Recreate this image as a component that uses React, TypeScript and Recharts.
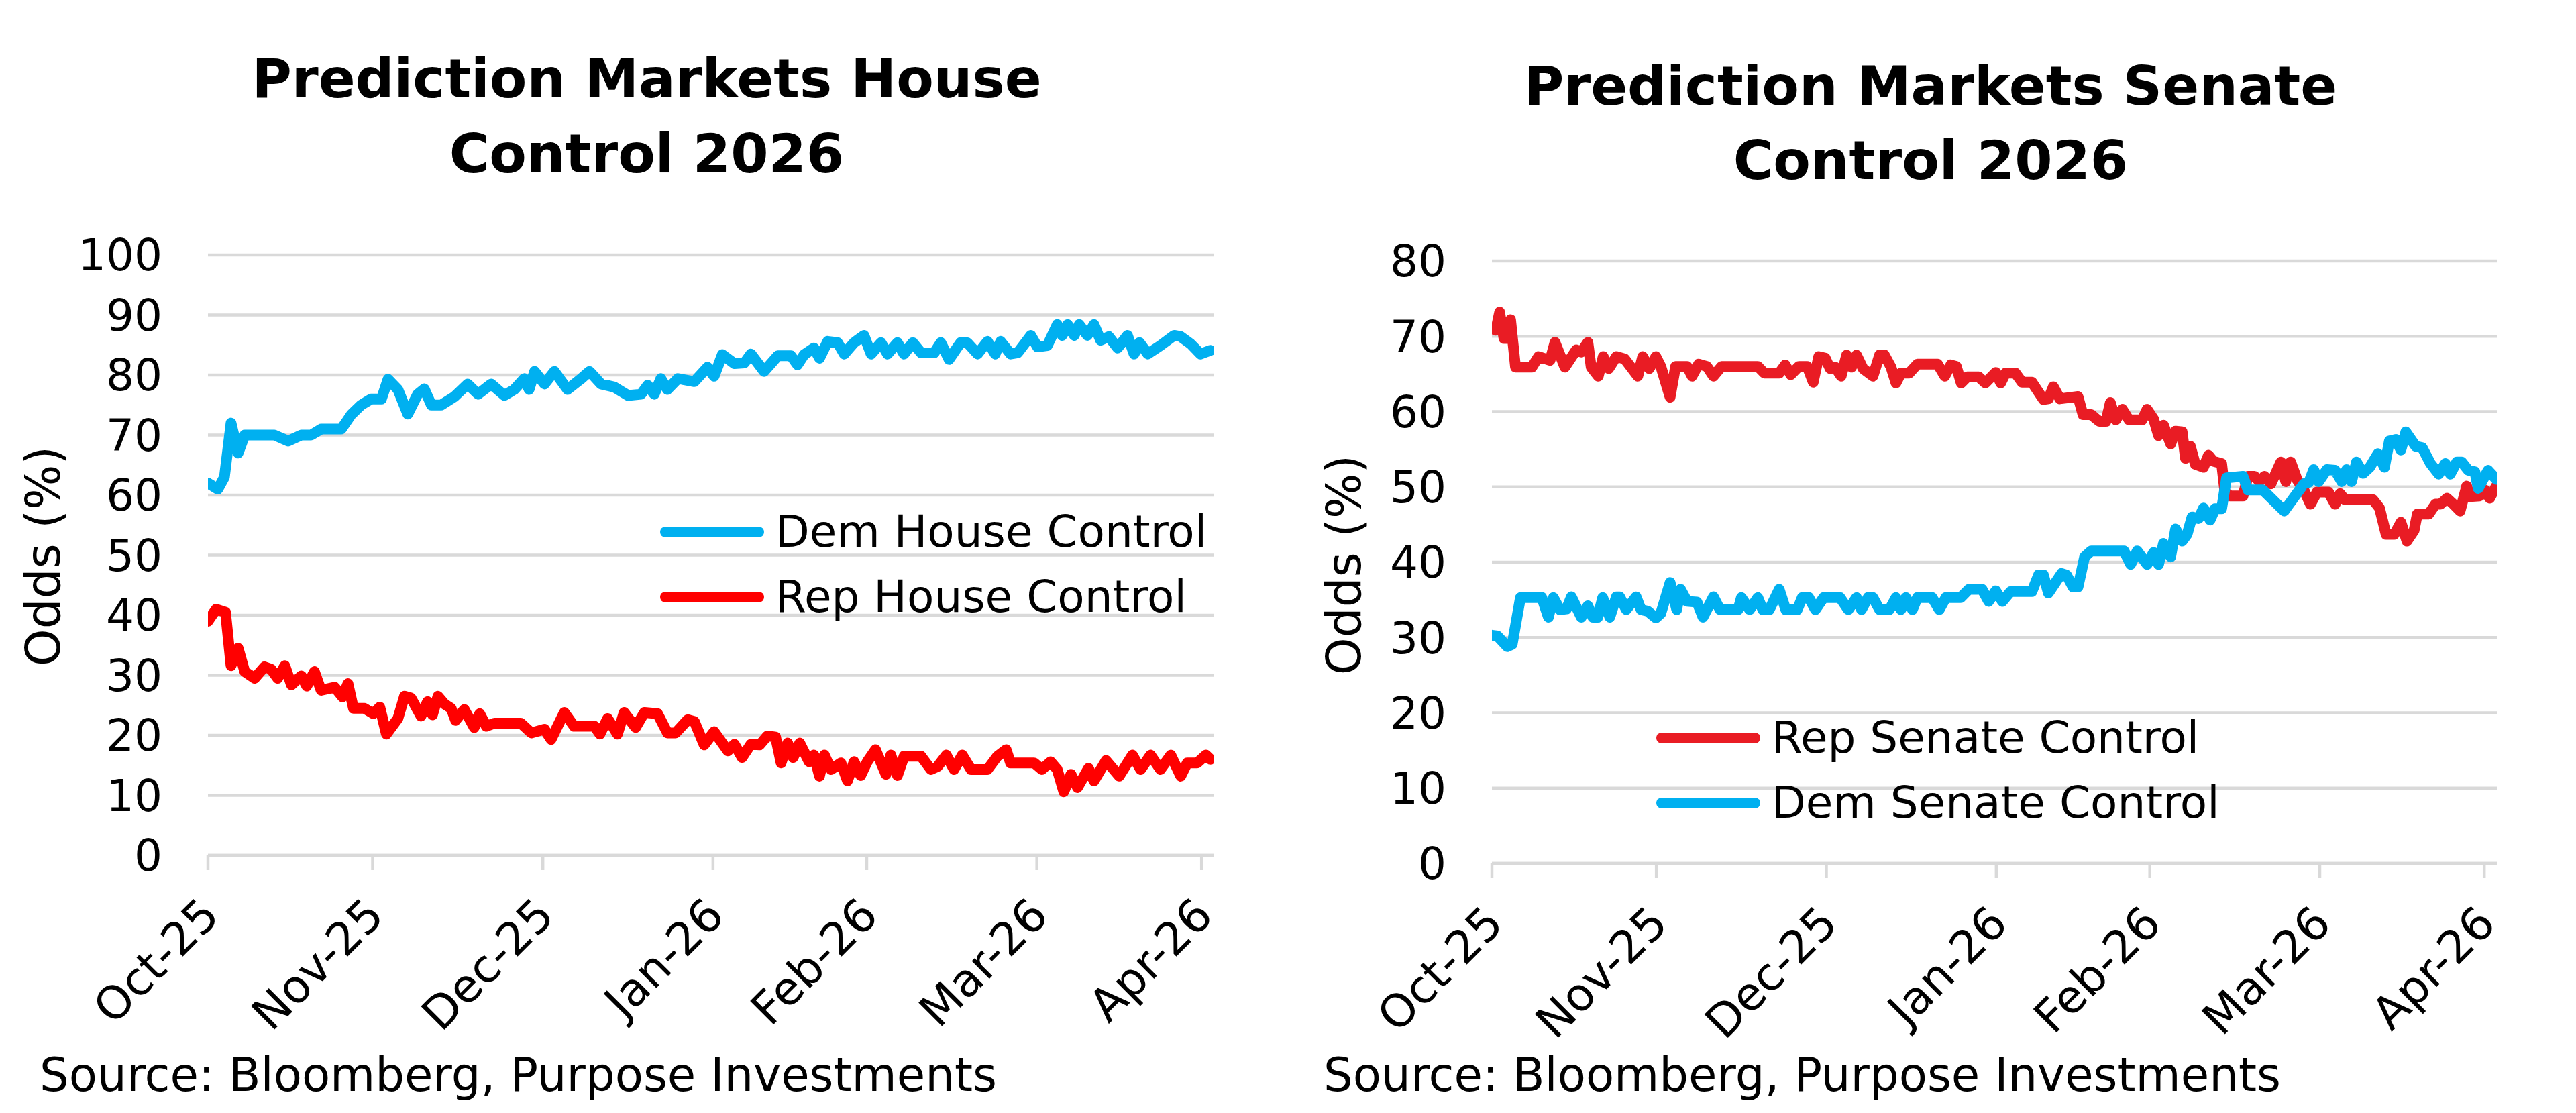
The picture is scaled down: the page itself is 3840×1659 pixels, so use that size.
import React from "react";
import { LineChart, Line, XAxis, YAxis, CartesianGrid, Legend } from "recharts";

const FONT = "'DejaVu Sans', 'Liberation Sans', sans-serif";
const BLUE = "#00B0F0";
const GRID = "#D9D9D9";

// x = days since the first observation, month ticks fall on month ends
const monthTicks = [0, 30, 61, 92, 120, 151, 181];
const monthLabels = ["Oct-25", "Nov-25", "Dec-25", "Jan-26", "Feb-26", "Mar-26", "Apr-26"];
const houseTicks = [0, 10, 20, 30, 40, 50, 60, 70, 80, 90, 100];
const senateTicks = [0, 10, 20, 30, 40, 50, 60, 70, 80];

const houseDem: [number, number][] = [
  [0, 62], [1.8, 61], [3, 63], [4.2, 72], [5.5, 67], [6.7, 70], [12.1, 70], [14.6, 69], [17, 70], [18.8, 70],
  [20.6, 71], [24.3, 71], [26.1, 73.4], [27.9, 75], [29.7, 76], [31.6, 76], [32.8, 79.3], [34.6, 77.6], [36.4, 73.5], [38.2, 76.8],
  [39.4, 77.7], [40.7, 75], [42.5, 75], [44.9, 76.4], [47.3, 78.5], [49.2, 76.8], [51.6, 78.5], [54, 76.6], [55.8, 77.6], [57.6, 79.4],
  [58.5, 77.6], [59.5, 80.6], [61.3, 78.5], [63.1, 80.6], [65.5, 77.6], [68, 79.4], [69.5, 80.6], [71.6, 78.5], [74, 78], [76.5, 76.6],
  [78.9, 76.8], [80.1, 78.3], [81.3, 76.8], [82.5, 79.4], [83.7, 77.6], [85.6, 79.4], [88.6, 78.9], [91, 81.3], [92.2, 79.8], [93.7, 83.4],
  [95.9, 81.9], [97.7, 82], [98.9, 83.5], [101.3, 80.6], [103.8, 83.2], [106.2, 83.2], [107.4, 81.7], [108.6, 83.4], [110.4, 84.5], [111.4, 82.8],
  [112.9, 85.6], [114.7, 85.4], [115.9, 83.5], [117.7, 85.4], [119.5, 86.6], [120.8, 83.5], [122.6, 85.4], [123.8, 83.5], [125.6, 85.4], [126.8, 83.5],
  [128.4, 85.4], [129.9, 83.7], [132.3, 83.7], [133.5, 85.4], [135, 82.6], [137.1, 85.4], [138.3, 85.4], [140.2, 83.5], [142, 85.6], [143.4, 83.5],
  [144.4, 85.6], [146.2, 83.5], [147.5, 83.7], [149.9, 86.6], [151.1, 84.7], [152.9, 84.9], [154.7, 88.4], [155.6, 86.6], [156.6, 88.4], [157.8, 86.6],
  [158.7, 88.4], [160.2, 86.6], [161.4, 88.4], [162.6, 85.8], [164.1, 86.4], [165.7, 84.5], [167.5, 86.6], [168.7, 83.5], [169.7, 85.4], [171.2, 83.5],
  [173.5, 84.9], [176, 86.6], [177.2, 86.4], [179, 85.2], [180.8, 83.5], [182.6, 84.1],
];

const houseRep: [number, number][] = [
  [0, 39], [1.5, 41], [3.2, 40.5], [4.2, 31.6], [5.5, 34.5], [6.7, 30.6], [8.5, 29.5], [10.3, 31.4], [11.5, 31], [12.7, 29.5],
  [14, 31.6], [15.2, 28.4], [17, 29.9], [18, 28.2], [19.4, 30.6], [20.6, 27.5], [23.1, 28], [24.5, 26.4], [25.5, 28.6], [26.5, 24.5],
  [28.5, 24.5], [30.1, 23.6], [31.3, 24.7], [32.5, 20.2], [34.6, 22.8], [35.8, 26.5], [37, 26.2], [38.8, 23.2], [40, 25.6], [40.9, 23.4],
  [41.9, 26.5], [43.1, 25.2], [44.3, 24.5], [45.1, 22.5], [46.7, 24.3], [48.5, 21.3], [49.5, 23.6], [50.7, 21.5], [52.2, 22], [57, 22],
  [58.9, 20.4], [61.3, 21], [62.5, 19.3], [64.9, 23.8], [66.7, 21.5], [70.4, 21.5], [71.4, 20.2], [72.8, 22.8], [74.6, 20.2], [75.8, 23.8],
  [77.9, 21.3], [79.5, 23.8], [81.9, 23.6], [83.7, 20.4], [85.2, 20.4], [87.4, 22.6], [88.6, 22.3], [90.4, 18.4], [92.2, 20.6], [94.7, 17.4],
  [95.9, 18.5], [97.3, 16.3], [98.9, 18.5], [100.5, 18.4], [101.9, 19.9], [103.4, 19.7], [104.4, 15.4], [105.6, 18.7], [106.6, 16.3], [107.8, 18.7],
  [109.5, 15.6], [110.4, 16.7], [111.4, 13.2], [112.3, 16.7], [113.5, 14.3], [115.3, 15.4], [116.5, 12.4], [117.7, 15.6], [118.9, 13.3], [120.1, 15.6],
  [121.6, 17.6], [123.5, 13.5], [124.4, 16.7], [125.6, 13.3], [126.8, 16.5], [129.9, 16.5], [131.7, 14.3], [132.9, 14.8], [134.5, 16.7], [135.9, 14.3],
  [137.4, 16.7], [139, 14.3], [142, 14.3], [143.8, 16.5], [145.4, 17.6], [146.2, 15.4], [150.5, 15.4], [151.9, 14.3], [153.5, 15.6], [154.7, 14.3],
  [155.9, 10.6], [157.2, 13.5], [158.4, 11.3], [160.4, 14.5], [161.4, 12.4], [163.6, 15.8], [166, 13.2], [168.4, 16.7], [169.9, 14.3], [171.7, 16.7],
  [173.5, 14.3], [175.4, 16.7], [177.2, 13.2], [178.4, 15.4], [180.2, 15.4], [181.8, 16.7], [182.6, 16],
];

const senateRep: [number, number][] = [
  [0, 71], [0.7, 70.8], [1.4, 73.2], [2.2, 69.7], [2.8, 69.7], [3.4, 72.2], [4.3, 65.9], [7.3, 65.9], [8.5, 67.3], [10.6, 66.8],
  [11.5, 69.2], [13.3, 65.9], [15.4, 68.2], [16.3, 67.9], [17.5, 69.2], [18.1, 65.9], [19.4, 64.7], [20.3, 67.3], [21.3, 65.7], [22.7, 67.3],
  [24.2, 67], [26.6, 64.7], [27.5, 67.3], [28.7, 65.7], [29.9, 67.3], [30.8, 66], [32.5, 61.9], [33.5, 66], [35.6, 66], [36.5, 64.7],
  [37.7, 66.3], [39.2, 66], [40.4, 64.7], [41.9, 66], [48.5, 66], [49.7, 65.1], [52.4, 65.1], [53.5, 66.2], [54.5, 64.9], [56, 66],
  [57.5, 66], [58.6, 63.9], [59.6, 67.3], [60.8, 67.1], [61.7, 65.7], [62.6, 65.9], [63.7, 64.7], [64.7, 67.5], [65.6, 65.9], [66.5, 67.5],
  [67.7, 65.7], [69.5, 64.7], [70.7, 67.5], [71.6, 67.5], [72.8, 65.9], [73.7, 63.8], [74.6, 65.1], [76.1, 65.1], [77.6, 66.3], [81.3, 66.3],
  [82.6, 64.7], [83.7, 66.2], [84.7, 66], [85.6, 63.8], [86.7, 64.6], [88.8, 64.6], [90, 63.8], [91.9, 65.2], [92.8, 63.8], [93.7, 65.1],
  [95.5, 65.1], [96.7, 63.9], [98.5, 63.9], [100.6, 61.6], [101.5, 61.7], [102.4, 63.3], [103.6, 61.7], [106.9, 62], [107.8, 59.6], [109.3, 59.6],
  [110.8, 58.7], [112, 58.7], [112.8, 61.2], [113.8, 58.9], [115, 60.3], [116.2, 58.9], [118.6, 58.9], [119.5, 60.3], [120.7, 59], [121.6, 56.8],
  [122.5, 58.2], [123.8, 55.7], [124.7, 57.4], [125.9, 57.3], [126.5, 53.8], [127.4, 55.4], [128.3, 53], [129.8, 52.6], [130.7, 54.2], [131.6, 53.4],
  [133.1, 53.1], [133.7, 49.3], [134.6, 48.8], [137, 48.8], [137.9, 51.4], [139.1, 51.4], [140, 50.7], [140.9, 51.4], [142.1, 50.4], [143.9, 53.3],
  [144.8, 50.7], [145.7, 53.3], [146.9, 50.9], [148.1, 49.6], [149.3, 47.7], [150.5, 49.3], [152.6, 49.3], [153.8, 47.7], [154.7, 49.1], [155.6, 48.3],
  [160.7, 48.3], [161.9, 47.2], [163.1, 43.7], [164.6, 43.7], [165.8, 45.3], [166.9, 42.8], [168.2, 44.2], [168.8, 46.4], [170.9, 46.4], [172.1, 47.7],
  [173, 47.7], [174.2, 48.5], [175.4, 47.7], [176.6, 46.8], [177.8, 50.1], [178.4, 48.7], [180.2, 48.8], [181.1, 49.6], [182, 48.5], [183.2, 50.1],
];

const senateDem: [number, number][] = [
  [0, 30.3], [1, 30.2], [2.8, 28.8], [3.7, 29.1], [5.2, 35.3], [9.1, 35.3], [10.3, 32.7], [11.2, 35.3], [12.4, 33.7], [13.6, 33.8],
  [14.5, 35.4], [16.3, 32.7], [17.5, 34.2], [18.4, 32.7], [19.3, 32.7], [20.2, 35.3], [21.5, 32.7], [22.7, 35.4], [23.3, 35.4], [24.5, 33.7],
  [26.3, 35.4], [27.2, 33.7], [28.4, 33.5], [29.9, 32.6], [30.8, 33.2], [32.5, 37.3], [33.7, 33.7], [34.4, 36.4], [35.6, 34.8], [37.4, 34.7],
  [38.5, 32.7], [40.4, 35.4], [41.6, 33.7], [44.9, 33.7], [45.5, 35.3], [47, 33.7], [48.5, 35.3], [49.4, 33.7], [50.6, 33.7], [52.4, 36.4],
  [53.6, 33.7], [55.7, 33.7], [56.6, 35.3], [57.8, 35.3], [59, 33.7], [60.5, 35.3], [63.5, 35.3], [65, 33.7], [66.5, 35.3], [67.4, 33.7],
  [68.6, 35.3], [69.5, 35.3], [70.7, 33.7], [72.5, 33.7], [73.7, 35.3], [74.6, 33.7], [75.5, 35.3], [76.7, 33.7], [77.6, 35.3], [80.3, 35.3],
  [81.6, 33.7], [82.8, 35.3], [85.5, 35.3], [87, 36.4], [89.4, 36.4], [90.6, 34.8], [91.9, 36.2], [93.1, 34.8], [94.6, 36.1], [98.5, 36.1],
  [99.7, 38.3], [100.6, 38.3], [101.5, 35.9], [103.9, 38.5], [104.8, 38.3], [106, 36.7], [106.9, 36.7], [108.1, 40.7], [109.3, 41.5], [115.3, 41.5],
  [116.5, 39.7], [117.7, 41.5], [119.5, 39.7], [120.7, 41.3], [121.6, 39.7], [122.5, 42.5], [123.8, 40.7], [124.7, 44.4], [125.9, 42.8], [126.8, 43.7],
  [127.7, 46], [128.9, 45.8], [129.8, 47.2], [131, 45.6], [131.9, 47.1], [133.1, 47.1], [134, 51.2], [137, 51.4], [137.9, 49.6], [140.6, 49.6],
  [144.5, 46.8], [148.1, 50.4], [149, 50.6], [149.9, 52.3], [150.8, 50.7], [152.3, 52.3], [153.8, 52.2], [155, 50.7], [155.9, 52.3], [156.8, 50.7],
  [157.7, 53.3], [158.9, 51.8], [160.1, 52.6], [161.6, 54.4], [162.8, 52.6], [163.7, 56.1], [164.9, 56.3], [165.8, 54.9], [166.7, 57.3], [168.5, 55.4],
  [169.7, 55.2], [171.2, 53.1], [172.7, 51.7], [173.9, 53.1], [174.8, 51.7], [176, 53.3], [176.9, 53.3], [178.1, 52.2], [179.3, 52], [179.9, 49.8],
  [181.7, 52.2], [183.2, 51],
];

const toRows = (pts: [number, number][]) => pts.map(([day, odds]) => ({ day, odds }));

function MonthTick({ x, y, payload }: any) {
  const i = monthTicks.indexOf(payload.value);
  return (
    <g transform={`translate(${x + 3},${y + 52})`}>
      <text textAnchor="end" transform="rotate(-45)" dy="0.355em" fontSize={68} fontFamily={FONT} fill="#000">
        {monthLabels[i]}
      </text>
    </g>
  );
}

// keeps the legend in series order (recharts 3 sorts by name otherwise)
function LegendBox({ payload, order }: any) {
  const items = [...(payload || [])].sort(
    (a: any, b: any) => order.indexOf(a.value) - order.indexOf(b.value)
  );
  return (
    <div style={{ fontFamily: FONT, whiteSpace: "nowrap" }}>
      {items.map((p: any) => (
        <div key={p.value} style={{ display: "flex", alignItems: "center", height: 97 }}>
          <svg width={155} height={20}>
            <line x1={8} y1={10} x2={147} y2={10} stroke={p.color} strokeWidth={16} strokeLinecap="round" />
          </svg>
          <span style={{ marginLeft: 17, fontSize: 66, lineHeight: 1, color: "#000" }}>{p.value}</span>
        </div>
      ))}
    </div>
  );
}

type Series = { name: string; color: string; points: [number, number][] };

function Panel(props: {
  left: number;
  title: string[];
  titleX: number;
  titleY: number[];
  yMax: number;
  yTicks: number[];
  series: Series[];
  margin: { top: number; right: number; bottom: number; left: number };
  legendPos: { left: number; top: number };
  yLabelPos: { x: number; y: number };
  sourceX: number;
}) {
  const order = props.series.map((s) => s.name);
  return (
    <div style={{ position: "absolute", left: props.left, top: 0, width: 1920, height: 1659 }}>
      <LineChart width={1920} height={1659} margin={props.margin}>
        <CartesianGrid vertical={false} stroke={GRID} strokeWidth={4.5} />
        <XAxis
          dataKey="day"
          type="number"
          domain={[0, 183.3]}
          allowDataOverflow
          ticks={monthTicks}
          interval={0}
          height={200}
          tickSize={22}
          tickLine={{ stroke: GRID, strokeWidth: 4.5 }}
          axisLine={{ stroke: GRID, strokeWidth: 4.5 }}
          tick={<MonthTick />}
        />
        <YAxis
          type="number"
          domain={[0, props.yMax]}
          ticks={props.yTicks}
          interval={0}
          width={100}
          tickSize={0}
          tickMargin={68}
          tickLine={false}
          axisLine={false}
          tick={{ fontSize: 66, fill: "#000", fontFamily: FONT }}
        />
        {props.series.map((s) => (
          <Line
            key={s.name}
            name={s.name}
            data={toRows(s.points)}
            dataKey="odds"
            type="linear"
            stroke={s.color}
            strokeWidth={16}
            strokeLinejoin="round"
            strokeLinecap="round"
            dot={false}
            activeDot={false}
            isAnimationActive={false}
          />
        ))}
        <Legend
          layout="vertical"
          align="center"
          verticalAlign="middle"
          content={<LegendBox order={order} />}
          wrapperStyle={{ left: props.legendPos.left, top: props.legendPos.top, width: "auto" }}
        />
      </LineChart>
      <svg
        width={1920}
        height={1659}
        style={{ position: "absolute", left: 0, top: 0, pointerEvents: "none" }}
        fontFamily={FONT}
      >
        {props.title.map((t, i) => (
          <text key={t} x={props.titleX} y={props.titleY[i]} textAnchor="middle" fontSize={81} fontWeight={700} fill="#000">
            {t}
          </text>
        ))}
        <text
          transform={`translate(${props.yLabelPos.x},${props.yLabelPos.y}) rotate(-90)`}
          textAnchor="middle"
          fontSize={71}
          fill="#000"
        >
          Odds (%)
        </text>
        <text x={props.sourceX} y={1626} fontSize={69} fill="#000">
          Source: Bloomberg, Purpose Investments
        </text>
      </svg>
    </div>
  );
}

export default function App() {
  return (
    <div style={{ position: "absolute", left: 0, top: 0, width: 3840, height: 1659, background: "#fff" }}>
      <Panel
        left={0}
        title={["Prediction Markets House", "Control 2026"]}
        titleX={964}
        titleY={[145, 257]}
        yMax={100}
        yTicks={houseTicks}
        series={[
          { name: "Dem House Control", color: BLUE, points: houseDem },
          { name: "Rep House Control", color: "#FF0000", points: houseRep },
        ]}
        margin={{ top: 380, right: 110, bottom: 184, left: 210 }}
        legendPos={{ left: 992 - 8, top: 792 - 48 }}
        yLabelPos={{ x: 89, y: 829 }}
        sourceX={59}
      />
      <Panel
        left={1920}
        title={["Prediction Markets Senate", "Control 2026"]}
        titleX={958}
        titleY={[156, 267]}
        yMax={80}
        yTicks={senateTicks}
        series={[
          { name: "Rep Senate Control", color: "#E91C24", points: senateRep },
          { name: "Dem Senate Control", color: BLUE, points: senateDem },
        ]}
        margin={{ top: 389, right: 118, bottom: 172, left: 204 }}
        legendPos={{ left: 557 - 8, top: 1099 - 48 }}
        yLabelPos={{ x: 108, y: 842 }}
        sourceX={53}
      />
    </div>
  );
}
